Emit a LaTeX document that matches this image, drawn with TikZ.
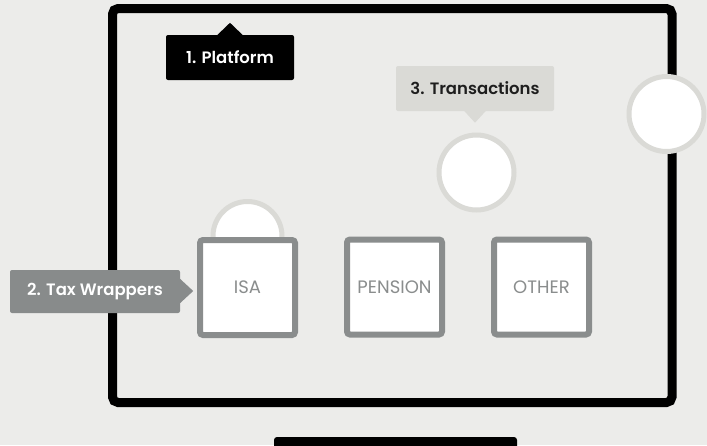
\documentclass[tikz,border=0pt]{standalone}
\usepackage{fontspec}
\setmainfont{Poppins}
\newfontfamily\labelfont{Poppins SemiBold}
\definecolor{bgGrey}{HTML}{ECECEA}
\definecolor{ringGrey}{HTML}{DADAD6}
\definecolor{boxGrey}{HTML}{8A8D8D}
\definecolor{tagGrey}{HTML}{888B8B}
\definecolor{darkText}{HTML}{1E1E1E}
\tikzset{
  wrapper/.style={draw=boxGrey, fill=white, line width=6pt, rounded corners=3pt,
    minimum width=95pt, minimum height=95pt, inner sep=0pt, text=boxGrey,
    font=\fontsize{18}{21}\selectfont},
  ball/.style={draw=ringGrey, fill=white, line width=5pt},
  tag/.style={rounded corners=2pt, inner sep=0pt, font=\labelfont\fontsize{16.5}{20}\selectfont}
}
\begin{document}
\begin{tikzpicture}[x=1pt, y=-1pt]
    \useasboundingbox (0,0) rectangle (707,445);
    \clip (0,0) rectangle (707,445);
    \fill[bgGrey] (0,0) rectangle (707,445);

% screen and stand
    \draw[line width=9pt, rounded corners=5.5pt] (112.5,8.5) rectangle (672,402.5);
    \fill[rounded corners=3pt] (274,437) rectangle (517,452);

% transactions
    \draw[ball] (666.5,114) circle (37.5);
    \draw[ball] (476.5,172.5) circle (37.5);
    \draw[ball] (247.5,236) circle (34.5);

% tax wrappers
    \node[wrapper] (isa) at (247.5,287.5) {ISA};
    \node[wrapper] (pension) at (394.5,287) {PENSION};
    \node[wrapper] (other) at (541.5,287) {OTHER};

% labels
    \node[tag, fill=black, text=white, minimum width=128pt, minimum height=45pt] (platform) at (230,57.5) {1. Platform};
    \fill (platform.north) ++(-13,0.5) -- ++(13,-12.5) -- ++(13,12.5) -- cycle;

    \node[tag, fill=ringGrey, text=darkText, minimum width=158pt, minimum height=45pt] (transactions) at (475,88.5) {3. Transactions};
    \fill[ringGrey] (transactions.south) ++(-11,-0.5) -- ++(11,12) -- ++(11,-12) -- cycle;

    \node[tag, fill=tagGrey, text=white, minimum width=170pt, minimum height=43pt] (wrappers) at (95,291.5) {2. Tax Wrappers};
    \fill[tagGrey] (wrappers.east) ++(-0.5,-13) -- ++(13.5,12.5) -- ++(-13.5,12.5) -- cycle;
\end{tikzpicture}
\end{document}
